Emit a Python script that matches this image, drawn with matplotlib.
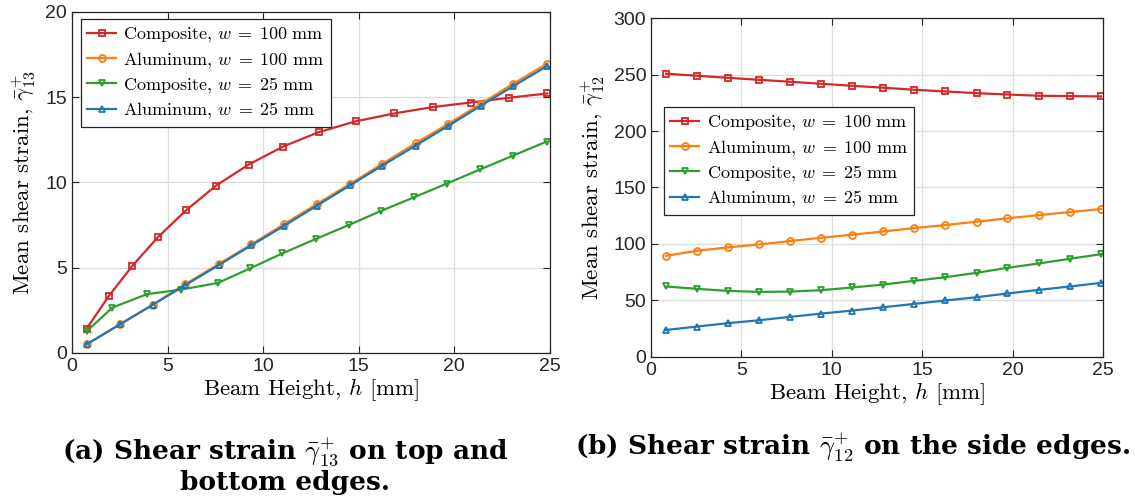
import matplotlib.pyplot as plt

plt.rcParams['font.family'] = 'Liberation Sans'
plt.rcParams['mathtext.fontset'] = 'cm'

# Left panel: shear strain on top and bottom edges
h_comp100_a = [0.77, 1.92, 3.16, 4.50, 5.98, 7.53, 9.24, 11.05, 12.90, 14.85, 16.86, 18.86, 20.85, 22.87, 24.86]
g_comp100_a = [1.43, 3.33, 5.11, 6.80, 8.38, 9.81, 11.05, 12.11, 12.95, 13.59, 14.05, 14.42, 14.69, 14.97, 15.22]
h_alu_a = [0.77, 2.51, 4.24, 5.93, 7.67, 9.38, 11.10, 12.81, 14.54, 16.23, 17.97, 19.68, 21.39, 23.08, 24.83]
g_alu100_a = [0.51, 1.68, 2.84, 4.04, 5.21, 6.37, 7.56, 8.74, 9.91, 11.09, 12.30, 13.44, 14.61, 15.79, 16.96]
g_alu25_a = [0.51, 1.68, 2.84, 3.98, 5.15, 6.31, 7.46, 8.64, 9.83, 10.99, 12.16, 13.32, 14.50, 15.65, 16.81]
h_comp25_a = [0.77, 2.11, 3.92, 5.72, 7.64, 9.31, 11.00, 12.74, 14.47, 16.16, 17.89, 19.60, 21.36, 23.08, 24.83]
g_comp25_a = [1.27, 2.66, 3.45, 3.72, 4.11, 4.96, 5.84, 6.68, 7.50, 8.33, 9.13, 9.93, 10.77, 11.58, 12.40]

# Right panel: shear strain on the side edges
h_b = [0.83, 2.53, 4.24, 5.97, 7.69, 9.40, 11.14, 12.85, 14.56, 16.28, 18.01, 19.71, 21.46, 23.17, 24.89]
g_comp100_b = [250.7, 248.9, 247.1, 245.3, 243.6, 241.8, 240.0, 238.3, 236.5, 235.0, 233.5, 232.3, 231.2, 230.9, 230.6]
g_alu100_b = [89.6, 94.0, 97.0, 99.6, 102.6, 105.5, 108.2, 111.1, 114.1, 116.8, 119.7, 122.7, 125.6, 128.3, 130.9]
g_comp25_b = [62.4, 60.3, 58.5, 57.6, 57.9, 59.1, 61.5, 64.1, 67.4, 70.6, 74.5, 78.9, 82.8, 86.9, 91.0]
g_alu25_b = [23.9, 26.9, 29.9, 32.5, 35.5, 38.4, 41.1, 44.0, 47.0, 50.0, 52.9, 56.2, 59.4, 62.4, 65.6]

labels = [r'Composite, $w\;=\;\mathsf{100}\ \mathrm{mm}$',
          r'Aluminum, $w\;=\;\mathsf{100}\ \mathrm{mm}$',
          r'Composite, $w\;=\;\mathsf{25}\ \mathrm{mm}$',
          r'Aluminum, $w\;=\;\mathsf{25}\ \mathrm{mm}$']
colors = ['#d62728', '#ff7f0e', '#2ca02c', '#1f77b4']
markers = ['s', 'o', 'v', '^']

fig = plt.figure(figsize=(11.35, 4.99), dpi=100)
ax1 = fig.add_axes([0.0634, 0.2926, 0.4211, 0.6834])
ax2 = fig.add_axes([0.5736, 0.2846, 0.3982, 0.6793])

series_a = [(h_comp100_a, g_comp100_a), (h_alu_a, g_alu100_a),
            (h_comp25_a, g_comp25_a), (h_alu_a, g_alu25_a)]
series_b = [(h_b, g_comp100_b), (h_b, g_alu100_b),
            (h_b, g_comp25_b), (h_b, g_alu25_b)]

for ax, series in [(ax1, series_a), (ax2, series_b)]:
    for (x, y), c, m, lab in zip(series, colors, markers, labels):
        ax.plot(x, y, color=c, marker=m, markersize=5, markerfacecolor='none',
                markeredgewidth=1.3, linewidth=1.6, label=lab)
    ax.set_xlim(0, 25)
    ax.set_xticks([0, 5, 10, 15, 20, 25])
    ax.grid(True, color='#dcdcdc', linewidth=0.9)
    ax.set_axisbelow(True)
    ax.tick_params(direction='in', top=True, right=True, length=5,
                   labelsize=14, colors='#262626')
    for s in ax.spines.values():
        s.set_color('#262626')
        s.set_linewidth(0.9)
    ax.set_xlabel(r'Beam Height, $h$ [mm]', family='cmr10', fontsize=16.5, labelpad=1)

ax1.set_ylim(0, 20)
ax1.set_yticks([0, 5, 10, 15, 20])
ax1.set_ylabel(r'Mean shear strain, $\bar{\gamma}_{13}^{+}$', family='cmr10', fontsize=16.5, labelpad=5)
ax2.set_ylim(0, 300)
ax2.set_yticks([0, 50, 100, 150, 200, 250, 300])
ax2.set_ylabel(r'Mean shear strain, $\bar{\gamma}_{12}^{+}$', family='cmr10', fontsize=16.5, labelpad=5)

leg_kw = dict(loc='upper left', borderaxespad=0, fancybox=False, framealpha=1,
              edgecolor='#262626', prop={'family': 'cmr10', 'size': 13},
              handlelength=1.6, labelspacing=0.3, borderpad=0.35, handletextpad=0.4)
l1 = ax1.legend(bbox_to_anchor=(0.019, 0.979), **leg_kw)
l2 = ax2.legend(bbox_to_anchor=(0.029, 0.737), **leg_kw)
for l in (l1, l2):
    l.get_frame().set_linewidth(0.9)

fig.text(0.251, 0.068, '(a) Shear strain $\\bar{\\gamma}_{13}^{+}$ on top and\nbottom edges.',
         family='DejaVu Serif', weight='bold', fontsize=19, ha='center', va='center',
         multialignment='center', linespacing=1.1)
fig.text(0.751, 0.104, '(b) Shear strain $\\bar{\\gamma}_{12}^{+}$ on the side edges.',
         family='DejaVu Serif', weight='bold', fontsize=19, ha='center', va='center')

plt.savefig('out.png', dpi=100)
